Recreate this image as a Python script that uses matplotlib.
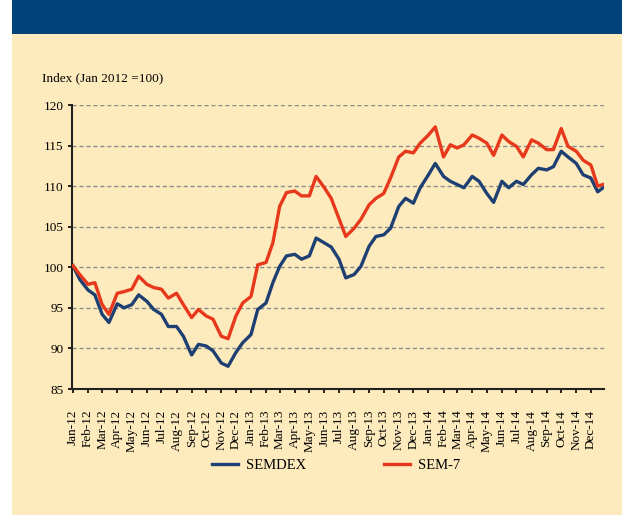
import pandas as pd
import matplotlib
matplotlib.use("Agg")
import matplotlib.pyplot as plt
import matplotlib.dates as mdates
from matplotlib.patches import Rectangle

# Half-monthly readings (1st and 15th of each month), last point = end of Dec 2014
dates = list(pd.date_range("2012-01-01", "2014-12-15", freq="SMS")) + [pd.Timestamp("2014-12-26")]

semdex = [100.2, 98.5, 97.2, 96.6, 94.2, 93.2, 95.5, 95.0, 95.4, 96.6,
          95.8, 94.8, 94.2, 92.7, 92.7, 91.5, 89.2, 90.5, 90.3, 89.7,
          88.2, 87.8, 89.5, 90.7, 91.7, 94.8, 95.6, 98.1, 100.1, 101.4,
          101.6, 101.0, 101.4, 103.6, 103.0, 102.5, 101.0, 98.7, 99.1, 100.1,
          102.6, 103.8, 104.0, 104.8, 107.5, 108.5, 107.9, 109.8, 111.4, 112.8,
          111.2, 110.6, 110.2, 109.8, 111.2, 110.6, 109.1, 108.0, 110.6, 109.8,
          110.6, 110.2, 111.4, 112.2, 112.0, 112.4, 114.3, 113.6, 112.8, 111.4,
          111.0, 109.3, 109.8]

sem7 = [100.2, 99.1, 97.9, 98.1, 95.4, 94.2, 96.8, 97.0, 97.3, 98.9,
        97.9, 97.5, 97.3, 96.2, 96.8, 95.4, 93.8, 94.8, 94.0, 93.6,
        91.5, 91.2, 94.0, 95.6, 96.4, 100.3, 100.6, 103.0, 107.5, 109.2,
        109.4, 108.8, 108.8, 111.2, 109.8, 108.5, 106.0, 103.8, 104.8, 105.9,
        107.7, 108.5, 109.1, 111.0, 113.6, 114.3, 114.1, 115.3, 116.3, 117.3,
        113.6, 115.1, 114.7, 115.1, 116.3, 115.9, 115.3, 113.8, 116.3, 115.5,
        114.9, 113.6, 115.7, 115.3, 114.5, 114.5, 117.1, 114.9, 114.3, 113.2,
        112.6, 110.0, 110.2]

series_names = ["SEMDEX", "SEM-7"]
yticks = [85, 90, 95, 100, 105, 110, 115, 120]

cream = "#FEEBBD"
header_blue = "#00427A"
blue = "#1D3F72"
red = "#E8381B"

plt.rcParams["font.family"] = ["Liberation Serif", "DejaVu Serif"]

fig = plt.figure(figsize=(6.22, 5.15), dpi=100)
fig.patch.set_facecolor("white")

# page background and header band (behind the axes)
fig.patches.append(Rectangle((12 / 622, 0), 1 - 12 / 622, 1, transform=fig.transFigure,
                             facecolor=cream, edgecolor="none", zorder=-3))
fig.patches.append(Rectangle((12 / 622, 1 - 34 / 515), 1 - 12 / 622, 34 / 515,
                             transform=fig.transFigure, facecolor=header_blue,
                             edgecolor="none", zorder=-2))

ax = fig.add_axes([72 / 622, 1 - 389 / 515, 532 / 622, 284 / 515])
ax.set_facecolor("none")

ax.plot(dates, semdex, color=blue, lw=2.4, label=series_names[0], zorder=3)
ax.plot(dates, sem7, color=red, lw=2.4, label=series_names[1], zorder=3)

ax.set_ylim(85, 120)
ax.set_yticks(yticks)
ax.set_xlim(pd.Timestamp("2011-12-30"), pd.Timestamp("2014-12-28"))

ax.xaxis.set_major_locator(mdates.MonthLocator())
ax.xaxis.set_major_formatter(mdates.DateFormatter("%b-%y"))
ax.tick_params(axis="x", labelrotation=90, length=3, width=1.2, pad=12, labelsize=9.5)
ax.tick_params(axis="y", length=3, width=1.2, pad=3, labelsize=9.5)
for lab in ax.get_xticklabels():
    lab.set_verticalalignment("top")

ax.grid(axis="y", color="#8C8C8C", linestyle=(0, (3, 2)), linewidth=1.0)
ax.set_axisbelow(True)
for s in ["top", "right"]:
    ax.spines[s].set_visible(False)
for s in ["left", "bottom"]:
    ax.spines[s].set_linewidth(1.5)
    ax.spines[s].set_color("#222222")

fig.text(42 / 622, 1 - 78 / 515, "Index (Jan 2012 =100)", fontsize=9.5,
         ha="left", va="center")

leg = fig.legend(loc="center", bbox_to_anchor=(336 / 622, 1 - 465 / 515), ncol=2,
                 frameon=False, fontsize=10.5, handlelength=1.8, columnspacing=5.3,
                 handletextpad=0.55)

fig.savefig("out.png", dpi=100, facecolor=fig.get_facecolor())
